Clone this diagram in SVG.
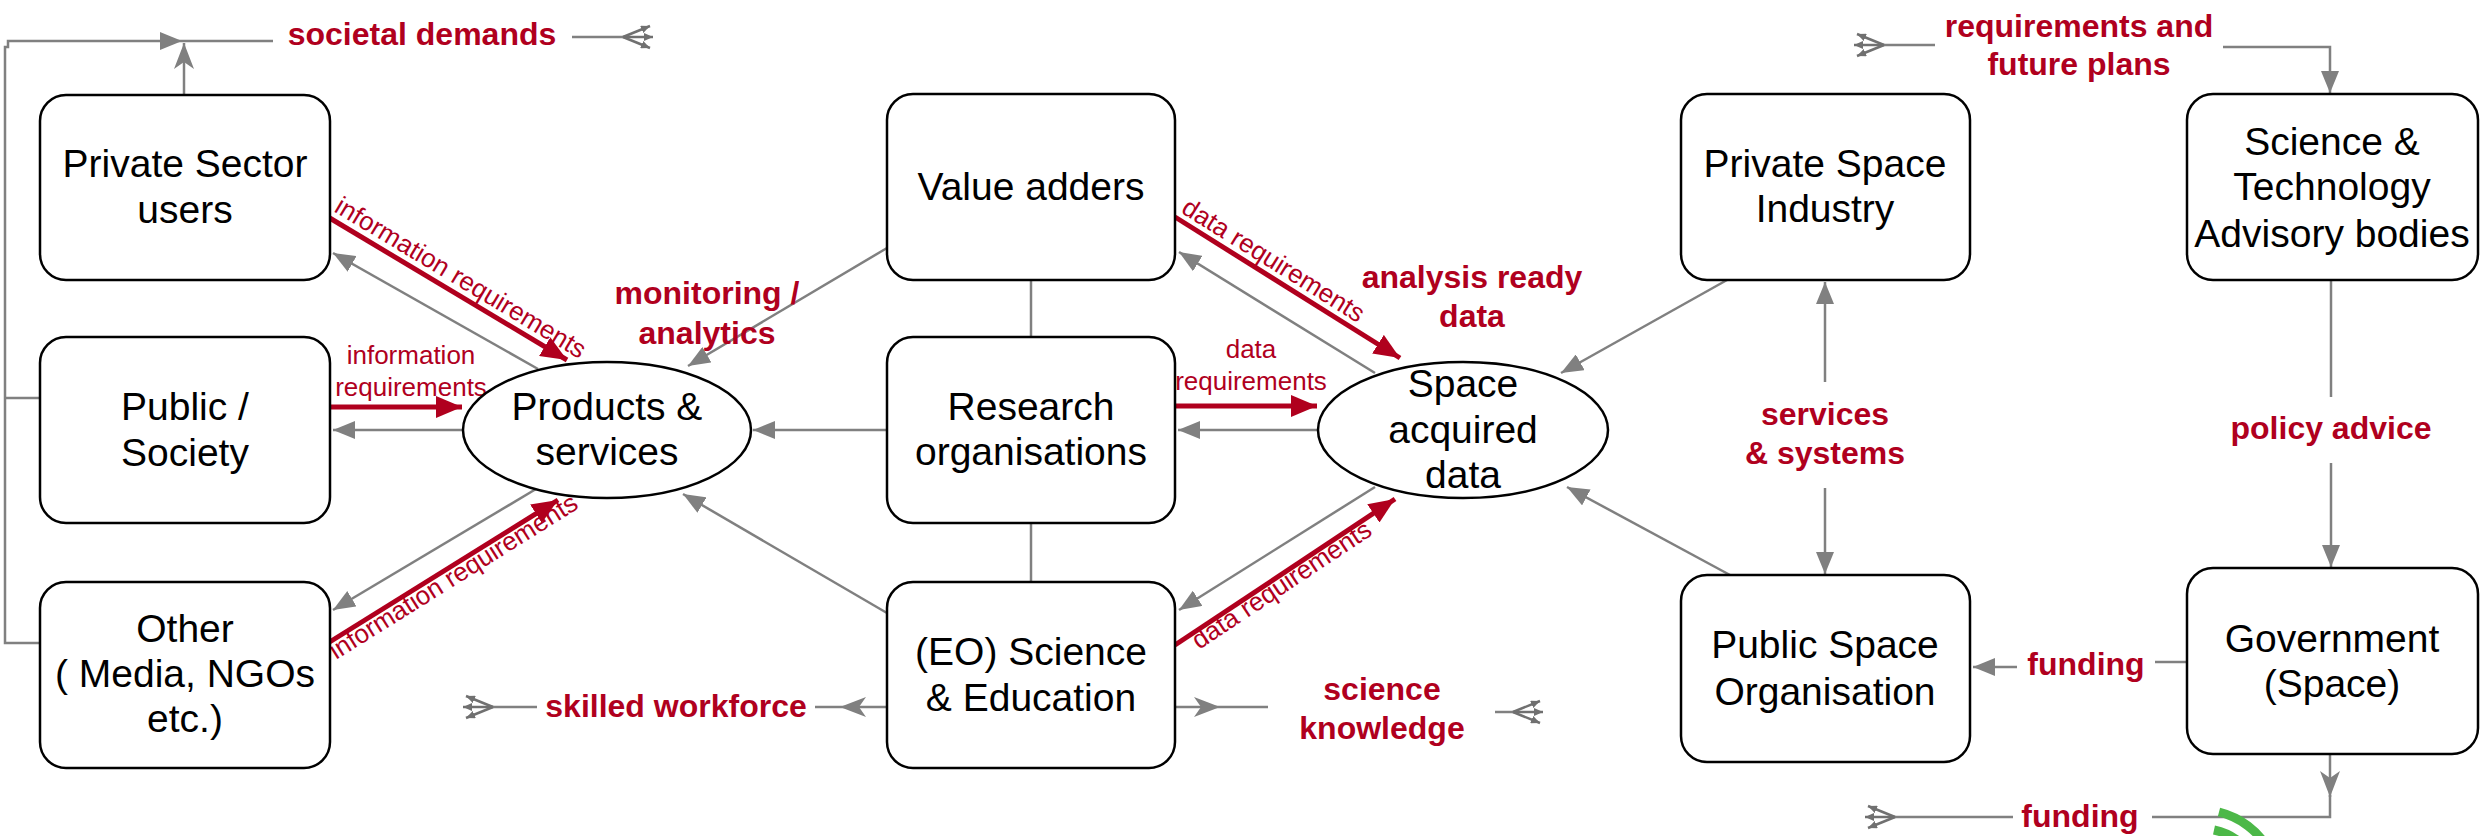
<svg xmlns="http://www.w3.org/2000/svg" width="2484" height="836" viewBox="0 0 2484 836">
<style>
.box{fill:#fff;stroke:#000;stroke-width:2.5}
.nt{font-family:"Liberation Sans",Arial,sans-serif;font-size:39px;fill:#000;text-anchor:middle}
.rl{font-family:"Liberation Sans",Arial,sans-serif;font-size:32px;font-weight:bold;fill:#b0001e;text-anchor:middle}
.sl{font-family:"Liberation Sans",Arial,sans-serif;font-size:26px;fill:#b0001e}
.g{stroke:#808080;stroke-width:2.5;fill:none}
.r{stroke:#b0001e;stroke-width:5;fill:none}
.fk{stroke:#707070;stroke-width:2.5;fill:none}
</style>
<defs>
<marker id="tri" markerUnits="userSpaceOnUse" markerWidth="24" markerHeight="18" refX="22" refY="9" orient="auto"><path d="M0,0 L22,9 L0,18 z" fill="#808080"/></marker>
<marker id="barb" markerUnits="userSpaceOnUse" markerWidth="28" markerHeight="20" refX="26" refY="10" orient="auto"><path d="M0,0 L26,10 L0,20 L7,10 z" fill="#808080"/></marker>
<marker id="red" markerUnits="userSpaceOnUse" markerWidth="28" markerHeight="22" refX="26" refY="11" orient="auto"><path d="M0,0 L26,11 L0,22 z" fill="#b0001e"/></marker>
<marker id="tip" markerUnits="userSpaceOnUse" markerWidth="10" markerHeight="8" refX="9" refY="4" orient="auto"><path d="M0,0 L9,4 L0,8 z" fill="#707070"/></marker>
<g id="fork">
<line class="fk" x1="0" y1="0" x2="27" y2="-11" marker-end="url(#tip)"/>
<line class="fk" x1="0" y1="0" x2="30" y2="0" marker-end="url(#tip)"/>
<line class="fk" x1="0" y1="0" x2="27" y2="11" marker-end="url(#tip)"/>
</g>
</defs>

<g id="connectors">
<polyline class="g" points="40,643 5,643 5,47 8,47 8,41 182,41" marker-end="url(#tri)"/>
<line class="g" x1="40" y1="398" x2="5" y2="398"/>
<line class="g" x1="184" y1="95" x2="184" y2="43" marker-end="url(#barb)"/>
<line class="g" x1="182" y1="41" x2="273" y2="41"/>
<line class="g" x1="572" y1="37" x2="623" y2="37"/>
<use href="#fork" transform="translate(623,37)"/>

<line class="r" x1="328" y1="217" x2="567" y2="360" marker-end="url(#red)"/>
<line class="g" x1="538" y1="369" x2="333" y2="253" marker-end="url(#tri)"/>
<line class="r" x1="330" y1="407" x2="462" y2="407" marker-end="url(#red)"/>
<line class="g" x1="464" y1="430" x2="333" y2="430" marker-end="url(#tri)"/>
<line class="g" x1="536" y1="489" x2="333" y2="610" marker-end="url(#tri)"/>
<line class="r" x1="328" y1="643" x2="558" y2="500" marker-end="url(#red)"/>

<line class="g" x1="887" y1="248" x2="688" y2="366" marker-end="url(#tri)"/>
<line class="g" x1="887" y1="430" x2="753" y2="430" marker-end="url(#tri)"/>
<line class="g" x1="887" y1="613" x2="683" y2="494" marker-end="url(#tri)"/>
<line class="g" x1="1031" y1="280" x2="1031" y2="337"/>
<line class="g" x1="1031" y1="523" x2="1031" y2="582"/>

<line class="g" x1="887" y1="707" x2="840" y2="707" marker-end="url(#barb)"/>
<line class="g" x1="840" y1="707" x2="815" y2="707"/>
<line class="g" x1="537" y1="707" x2="493" y2="707"/>
<use href="#fork" transform="translate(493,707) scale(-1,1)"/>

<line class="g" x1="1175" y1="707" x2="1220" y2="707" marker-end="url(#barb)"/>
<line class="g" x1="1220" y1="707" x2="1268" y2="707"/>
<line class="g" x1="1495" y1="712" x2="1513" y2="712"/>
<use href="#fork" transform="translate(1513,712)"/>

<line class="r" x1="1175" y1="217" x2="1400" y2="358" marker-end="url(#red)"/>
<line class="g" x1="1375" y1="373" x2="1179" y2="252" marker-end="url(#tri)"/>
<line class="r" x1="1175" y1="406" x2="1317" y2="406" marker-end="url(#red)"/>
<line class="g" x1="1318" y1="430" x2="1178" y2="430" marker-end="url(#tri)"/>
<line class="g" x1="1375" y1="487" x2="1179" y2="610" marker-end="url(#tri)"/>
<line class="r" x1="1175" y1="645" x2="1395" y2="499" marker-end="url(#red)"/>
<line class="g" x1="1727" y1="280" x2="1561" y2="373" marker-end="url(#tri)"/>
<line class="g" x1="1730" y1="575" x2="1567" y2="487" marker-end="url(#tri)"/>

<line class="g" x1="1825" y1="382" x2="1825" y2="282" marker-end="url(#tri)"/>
<line class="g" x1="1825" y1="488" x2="1825" y2="574" marker-end="url(#tri)"/>

<line class="g" x1="1935" y1="45" x2="1884" y2="45"/>
<use href="#fork" transform="translate(1884,45) scale(-1,1)"/>
<polyline class="g" points="2223,47 2330,47 2330,93" marker-end="url(#tri)"/>

<line class="g" x1="2331" y1="280" x2="2331" y2="397"/>
<line class="g" x1="2331" y1="463" x2="2331" y2="567" marker-end="url(#tri)"/>

<line class="g" x1="2187" y1="662" x2="2155" y2="662"/>
<line class="g" x1="2017" y1="667" x2="1973" y2="667" marker-end="url(#tri)"/>
<line class="g" x1="2330" y1="754" x2="2330" y2="797" marker-end="url(#barb)"/>
<polyline class="g" points="2330,795 2330,817 2152,817"/>
<line class="g" x1="2013" y1="817" x2="1895" y2="817"/>
<use href="#fork" transform="translate(1895,817) scale(-1,1)"/>
</g>

<g id="labels">
<text class="rl" x="422" y="45">societal demands</text>
<text class="sl" transform="translate(333,211) rotate(31)">information requirements</text>
<text class="sl" x="411" y="364" text-anchor="middle">information</text>
<text class="sl" x="411" y="396" text-anchor="middle">requirements</text>
<text class="sl" transform="translate(336,660) rotate(-32)">information requirements</text>
<text class="rl" x="707" y="304">monitoring /</text>
<text class="rl" x="707" y="344">analytics</text>
<text class="sl" transform="translate(1180,212) rotate(32)">data requirements</text>
<text class="rl" x="1472" y="288">analysis ready</text>
<text class="rl" x="1472" y="327">data</text>
<text class="sl" x="1251" y="358" text-anchor="middle">data</text>
<text class="sl" x="1251" y="390" text-anchor="middle">requirements</text>
<text class="sl" transform="translate(1199,650) rotate(-33.6)">data requirements</text>
<text class="rl" x="676" y="717">skilled workforce</text>
<text class="rl" x="1382" y="700">science</text>
<text class="rl" x="1382" y="739">knowledge</text>
<text class="rl" x="2079" y="37">requirements and</text>
<text class="rl" x="2079" y="75">future plans</text>
<text class="rl" x="1825" y="425">services</text>
<text class="rl" x="1825" y="464">&amp; systems</text>
<text class="rl" x="2331" y="439">policy advice</text>
<text class="rl" x="2086" y="675">funding</text>
<text class="rl" x="2080" y="827">funding</text>
</g>

<g id="private-sector-users"><rect class="box" x="40" y="95" width="290" height="185" rx="26"/><text class="nt" x="185" y="177">Private Sector</text><text class="nt" x="185" y="223">users</text></g>
<g id="public-society"><rect class="box" x="40" y="337" width="290" height="186" rx="26"/><text class="nt" x="185" y="420">Public /</text><text class="nt" x="185" y="466">Society</text></g>
<g id="other"><rect class="box" x="40" y="582" width="290" height="186" rx="26"/><text class="nt" x="185" y="642">Other</text><text class="nt" x="185" y="687">( Media, NGOs</text><text class="nt" x="185" y="732">etc.)</text></g>
<g id="products-services"><ellipse cx="607" cy="430" rx="144" ry="68" fill="#fff" stroke="#000" stroke-width="2.5"/><text class="nt" x="607" y="420">Products &amp;</text><text class="nt" x="607" y="465">services</text></g>
<g id="value-adders"><rect class="box" x="887" y="94" width="288" height="186" rx="26"/><text class="nt" x="1031" y="200">Value adders</text></g>
<g id="research-organisations"><rect class="box" x="887" y="337" width="288" height="186" rx="26"/><text class="nt" x="1031" y="420">Research</text><text class="nt" x="1031" y="465">organisations</text></g>
<g id="eo-science-education"><rect class="box" x="887" y="582" width="288" height="186" rx="26"/><text class="nt" x="1031" y="665">(EO) Science</text><text class="nt" x="1031" y="711">&amp; Education</text></g>
<g id="space-acquired-data"><ellipse cx="1463" cy="430" rx="145" ry="68" fill="#fff" stroke="#000" stroke-width="2.5"/><text class="nt" x="1463" y="397">Space</text><text class="nt" x="1463" y="443">acquired</text><text class="nt" x="1463" y="488">data</text></g>
<g id="private-space-industry"><rect class="box" x="1681" y="94" width="289" height="186" rx="26"/><text class="nt" x="1825" y="177">Private Space</text><text class="nt" x="1825" y="222">Industry</text></g>
<g id="science-technology-advisory"><rect class="box" x="2187" y="94" width="291" height="186" rx="26"/><text class="nt" x="2332" y="155">Science &amp;</text><text class="nt" x="2332" y="200">Technology</text><text class="nt" x="2332" y="247">Advisory bodies</text></g>
<g id="public-space-organisation"><rect class="box" x="1681" y="575" width="289" height="187" rx="26"/><text class="nt" x="1825" y="658">Public Space</text><text class="nt" x="1825" y="705">Organisation</text></g>
<g id="government-space"><rect class="box" x="2187" y="568" width="291" height="186" rx="26"/><text class="nt" x="2332" y="652">Government</text><text class="nt" x="2332" y="697">(Space)</text></g>

<g id="green-mark" fill="none" stroke="#4cb848" stroke-width="9">
<path d="M2219,812 A80,80 0 0 1 2269,850"/>
<path d="M2214,830 A62,62 0 0 1 2254,859"/>
</g>
</svg>
